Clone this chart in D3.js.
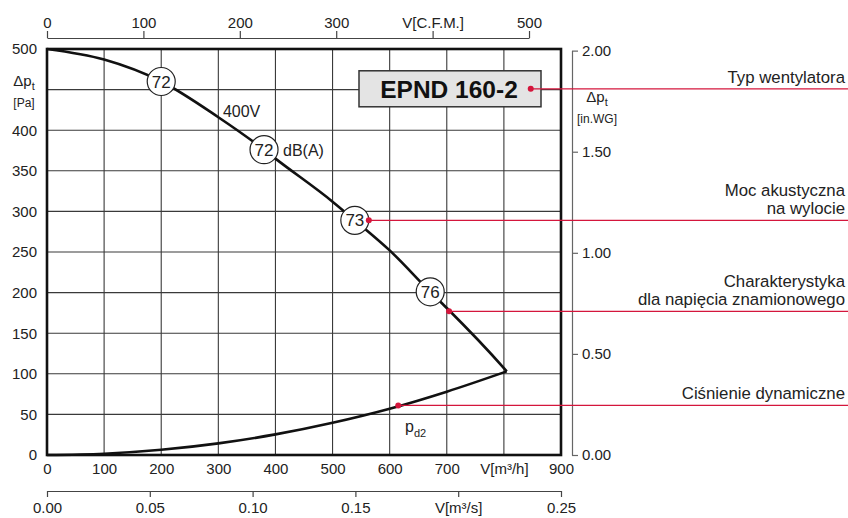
<!DOCTYPE html>
<html>
<head>
<meta charset="utf-8">
<script src="https://cdn.jsdelivr.net/npm/d3@7"></script>
<style>
  body { margin: 0; background: #fff; }
  svg { display: block; font-family: "Liberation Sans", Arial, sans-serif; }
  .tick text { fill: #222; font-size: 15px; }
</style>
</head>
<body>
<svg class="chart" width="848" height="518"></svg>
<script>
// fan curve (400V)
const flowM3h = [0, 100, 200, 300, 380, 400, 500, 539, 600, 671, 700, 800, 805];
const fanPa = [500, 487, 460, 416, 376, 365, 312, 289, 252, 201, 181, 107, 103];

// dynamic pressure pd2
const dynFlow = [0, 100, 200, 300, 400, 500, 600, 700, 805];
const dynPa = [0, 1.6, 6.4, 14.3, 25.4, 39.7, 57, 78, 103];

// sound power markers
const soundFlow = [200, 380, 539, 671];
const soundPa = [460, 376, 289, 201];
const soundDb = ["72", "72", "73", "76"];

// ticks
const m3hTicks = [0, 100, 200, 300, 400, 500, 600, 700, 800, 900];
const cfmTicks = [0, 100, 200, 300, 400, 500];
const m3sTicks = [0, 0.05, 0.1, 0.15, 0.2, 0.25];
const paTicks = [0, 50, 100, 150, 200, 250, 300, 350, 400, 450, 500];
const inwgTicks = [0, 0.5, 1, 1.5, 2];

const fanName = "EPND 160-2";
const calloutText = [
  ["Typ wentylatora"],
  ["Moc akustyczna", "na wylocie"],
  ["Charakterystyka", "dla napięcia znamionowego"],
  ["Ciśnienie dynamiczne"]
];
const anchorFlow = [847, 539, 704, 615];
const anchorPa = [451, 289, 177, 61];

const svg = d3.select(".chart");
const red = "#d4163c";
const r = 14;

const x = d3.scaleLinear().domain([0, 900]).range([47, 561]);
const y = d3.scaleLinear().domain([0, 500]).range([455, 49]);
const xCfm = d3.scaleLinear().domain([0, 500]).range([x(0), x(500 * 1.688)]);
const xM3s = d3.scaleLinear().domain([0, 0.25]).range([x(0), x(900)]);
const yInwg = d3.scaleLinear().domain([0, 2]).range([y(0), y(2 * 249)]);

// grid
svg.append("g")
  .selectAll("line")
  .data(m3hTicks.slice(1, -1))
  .enter()
  .append("line")
  .attr("x1", d => x(d)).attr("x2", d => x(d))
  .attr("y1", y(500)).attr("y2", y(0))
  .attr("stroke", "#3a3a3a").attr("stroke-width", 1.1);

svg.append("g")
  .selectAll("line")
  .data(paTicks.slice(1, -1))
  .enter()
  .append("line")
  .attr("y1", d => y(d)).attr("y2", d => y(d))
  .attr("x1", x(0)).attr("x2", x(900))
  .attr("stroke", "#3a3a3a").attr("stroke-width", 1.1);

// axes
const styleAxis = g => {
  g.selectAll("path.domain").attr("stroke", "#444").attr("stroke-width", 1.2);
  g.selectAll(".tick line").attr("stroke", "#444").attr("stroke-width", 1.2);
  g.attr("font-family", null).attr("font-size", null);
};

svg.append("g")
  .attr("transform", "translate(0,38)")
  .call(d3.axisTop(xCfm).tickValues(cfmTicks).tickSize(7).tickSizeOuter(0).tickPadding(3)
    .tickFormat(d => (d === 400 ? "V[C.F.M.]" : d)))
  .call(styleAxis);

svg.append("g")
  .attr("transform", "translate(0,491)")
  .call(d3.axisBottom(xM3s).tickValues(m3sTicks).tickSize(6).tickSizeOuter(0).tickPadding(5)
    .tickFormat(d => (d === 0.2 ? "V[m³/s]" : d3.format(".2f")(d))))
  .call(styleAxis);

svg.append("g")
  .attr("transform", `translate(0,${y(0)})`)
  .call(d3.axisBottom(x).tickValues(m3hTicks).tickSize(0).tickPadding(8)
    .tickFormat(d => (d === 800 ? "V[m³/h]" : d)))
  .call(styleAxis)
  .call(g => g.select(".domain").remove());

svg.append("g")
  .attr("transform", `translate(${x(0)},0)`)
  .call(d3.axisLeft(y).tickValues(paTicks).tickSize(0).tickPadding(10)
    .tickFormat(d => (d === 450 ? "" : d)))
  .call(styleAxis)
  .call(g => g.select(".domain").remove());

svg.append("g")
  .attr("transform", "translate(572,0)")
  .call(d3.axisRight(yInwg).tickValues(inwgTicks).tickSize(6).tickSizeOuter(0).tickPadding(4)
    .tickFormat(d3.format(".2f")))
  .call(styleAxis)
  .call(g => g.selectAll("path.domain, .tick line").attr("stroke", "#666"));

// axis titles
const dpLabel = (gx, gy, unit) => {
  const t = svg.append("text").attr("x", gx).attr("y", gy)
    .attr("text-anchor", "middle").attr("fill", "#222").attr("font-size", 15);
  t.append("tspan").text("Δp");
  t.append("tspan").attr("font-size", 11).attr("dy", 4).text("t");
  svg.append("text").attr("x", gx).attr("y", gy + 21)
    .attr("text-anchor", "middle").attr("fill", "#222").attr("font-size", 12)
    .text(unit);
};
dpLabel(24, 86, "[Pa]");
dpLabel(597, 102, "[in.WG]");

// frame
svg.append("rect")
  .attr("x", x(0)).attr("y", y(500))
  .attr("width", x(900) - x(0)).attr("height", y(0) - y(500))
  .attr("fill", "none").attr("stroke", "#111").attr("stroke-width", 2.6);

// curves
const line = d3.line().curve(d3.curveMonotoneX);

svg.append("path")
  .attr("d", line(dynFlow.map((d, i) => [x(d), y(dynPa[i])])))
  .attr("fill", "none").attr("stroke", "#111").attr("stroke-width", 2.6);

svg.append("path")
  .attr("d", line(flowM3h.map((d, i) => [x(d), y(fanPa[i])])))
  .attr("fill", "none").attr("stroke", "#111").attr("stroke-width", 2.6)
  .attr("stroke-linejoin", "miter");

svg.append("text")
  .attr("x", x(308)).attr("y", y(416))
  .attr("fill", "#222").attr("font-size", 16)
  .text("400V");

const pd = svg.append("text")
  .attr("x", x(627)).attr("y", y(28))
  .attr("fill", "#222").attr("font-size", 16);
pd.append("tspan").text("p");
pd.append("tspan").attr("font-size", 11).attr("dy", 5).text("d2");

// sound markers
const marks = svg.append("g")
  .selectAll("g")
  .data(soundFlow)
  .enter()
  .append("g")
  .attr("transform", (d, i) => `translate(${x(d)},${y(soundPa[i])})`);

marks.append("circle")
  .attr("r", r)
  .attr("fill", "#fff").attr("stroke", "#222").attr("stroke-width", 1.2);

marks.append("text")
  .attr("text-anchor", "middle").attr("dy", "0.36em")
  .attr("fill", "#222").attr("font-size", 17)
  .text((d, i) => soundDb[i]);

svg.append("text")
  .attr("x", x(soundFlow[1]) + r + 5).attr("y", y(soundPa[1]) + 6)
  .attr("fill", "#222").attr("font-size", 16)
  .text("dB(A)");

// fan type box
const boxY = y(anchorPa[0]);
svg.append("rect")
  .attr("x", 359).attr("y", boxY - 18)
  .attr("width", 182).attr("height", 36)
  .attr("fill", "#e4e4e4").attr("stroke", "#333").attr("stroke-width", 1.5);
svg.append("text")
  .attr("x", 449).attr("y", boxY)
  .attr("dy", "0.36em")
  .attr("text-anchor", "middle")
  .attr("font-weight", "bold").attr("font-size", 24.5).attr("fill", "#111")
  .text(fanName);

// callouts
calloutText.forEach((lines, i) => {
  const ax = x(anchorFlow[i]) + (i === 1 ? r : 0);
  const ay = y(anchorPa[i]);
  svg.append("line")
    .attr("x1", ax).attr("x2", 848)
    .attr("y1", ay).attr("y2", ay)
    .attr("stroke", red).attr("stroke-width", 1.3);
  svg.append("circle")
    .attr("cx", ax).attr("cy", ay).attr("r", 3)
    .attr("fill", red);
  lines.forEach((t, j) => {
    svg.append("text")
      .attr("x", 845)
      .attr("y", ay - 6 - (lines.length - 1 - j) * 18.5)
      .attr("text-anchor", "end")
      .attr("fill", "#222").attr("font-size", 16.8)
      .text(t);
  });
});
</script>
</body>
</html>
